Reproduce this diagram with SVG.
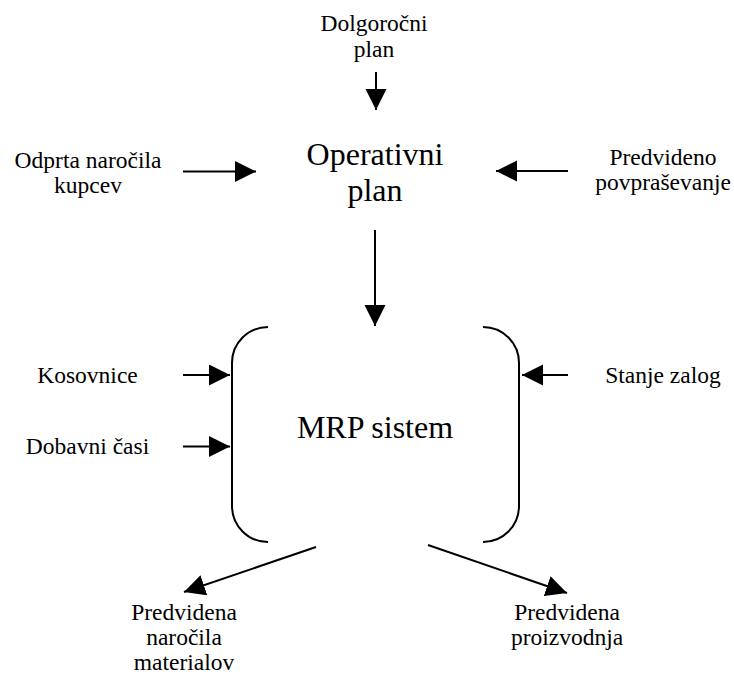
<svg xmlns="http://www.w3.org/2000/svg" width="734" height="678" viewBox="0 0 734 678">
<style>
text{font-family:'Liberation Serif','Times New Roman',Tinos,serif;fill:#000;text-anchor:middle}
.s{font-size:23.5px}
.b{font-size:32px}
.c{stroke:#000;stroke-width:2;fill:none}
</style>
<defs>
<marker id="ah" markerUnits="userSpaceOnUse" markerWidth="22" markerHeight="22" refX="21" refY="10.5" orient="auto">
<path d="M0,0 L21,10.5 L0,21 z" fill="#000"/>
</marker>
</defs>
<rect width="734" height="678" fill="#fff"/>
<g id="dolgorocni"><text class="s" x="374" y="31">Dolgoročni</text><text class="s" x="374" y="57">plan</text></g>
<g id="operativni"><text class="b" x="375" y="165">Operativni</text><text class="b" x="375" y="201">plan</text></g>
<g id="odprta"><text class="s" x="88" y="168">Odprta naročila</text><text class="s" x="88" y="193">kupcev</text></g>
<g id="predvideno"><text class="s" x="663" y="165">Predvideno</text><text class="s" x="663" y="190">povpraševanje</text></g>
<g id="mrp"><path class="c" d="M268,327 A36,36 0 0 0 232,363 L232,506 A36,36 0 0 0 268,542"/><path class="c" d="M483,327 A36,36 0 0 1 519,363 L519,506 A36,36 0 0 1 483,542"/><text class="b" x="375" y="438">MRP sistem</text></g>
<g id="kosovnice"><text class="s" x="87.5" y="383">Kosovnice</text></g>
<g id="dobavni"><text class="s" x="87.5" y="454">Dobavni časi</text></g>
<g id="stanje"><text class="s" x="663" y="383">Stanje zalog</text></g>
<g id="narocila"><text class="s" x="184" y="620">Predvidena</text><text class="s" x="184" y="645">naročila</text><text class="s" x="184" y="670">materialov</text></g>
<g id="proizvodnja"><text class="s" x="567" y="620">Predvidena</text><text class="s" x="567" y="645">proizvodnja</text></g>
<g id="connectors" class="c">
<line x1="376" y1="72" x2="376" y2="110" marker-end="url(#ah)"/>
<line x1="183" y1="171.5" x2="256" y2="171.5" marker-end="url(#ah)"/>
<line x1="568" y1="171" x2="496" y2="171" marker-end="url(#ah)"/>
<line x1="375" y1="230" x2="375" y2="326" marker-end="url(#ah)"/>
<line x1="183" y1="375" x2="230" y2="375" marker-end="url(#ah)"/>
<line x1="183" y1="446.5" x2="230" y2="446.5" marker-end="url(#ah)"/>
<line x1="568" y1="375" x2="522" y2="375" marker-end="url(#ah)"/>
<line x1="316" y1="547" x2="184" y2="592" marker-end="url(#ah)"/>
<line x1="428" y1="545" x2="567" y2="593" marker-end="url(#ah)"/>
</g>
</svg>
